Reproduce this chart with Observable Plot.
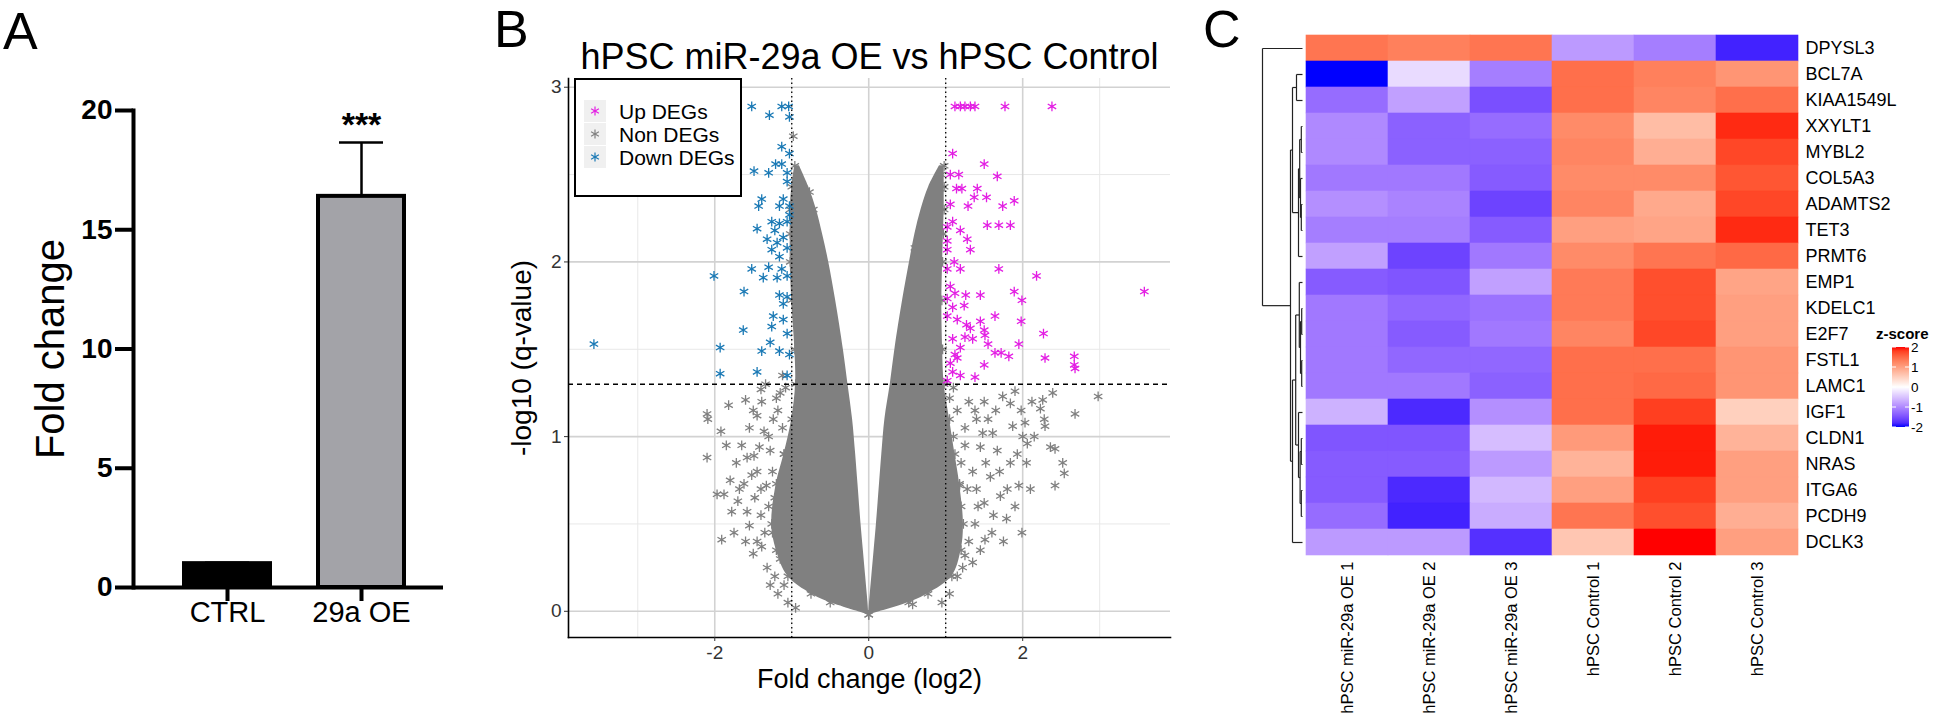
<!DOCTYPE html>
<html><head><meta charset="utf-8">
<script src="https://cdn.jsdelivr.net/npm/d3@7"></script>
<script src="https://cdn.jsdelivr.net/npm/@observablehq/plot@0.6"></script>
<style>
html,body{margin:0;padding:0;background:#fff;}
#root{position:relative;width:1946px;height:715px;overflow:hidden;font-family:"Liberation Sans",Arial,Helvetica,sans-serif;background:#fff;}
#root > svg, #root > div{position:absolute;}
#root svg{background:transparent;max-width:none;}
</style></head><body><div id="root"></div>
<script>
// ---------------- Panel A data ----------------
const groups = ["CTRL", "29a OE"];
const foldChange = [1.0, 16.4];
const foldChangeUpper = [1.04, 18.66];
const significance = ["", "***"];
const aTicks = [0, 5, 10, 15, 20];
const barColors = ["#000000", "#a3a3a8"];

// ---------------- Panel B data ----------------
const xMajor = [-2, 0, 2];
const xMinor = [-3, -1, 1, 3];
const yMajor = [0, 1, 2, 3];
const yMinor = [0.5, 1.5, 2.5];
const foldCut = [-1, 1];
const qCut = [1.3];
// dense central cloud of non-DEGs (outline)
const massY      = [-0.02, 0.05, 0.10, 0.20, 0.35, 0.50, 0.73, 0.90, 1.10, 1.30, 1.50, 1.78, 2.00, 2.16, 2.30, 2.43, 2.55];
const leftOuter  = [0, -0.50, -0.75, -1.05, -1.20, -1.26, -1.20, -1.10, -1.00, -0.95, -0.96, -1.00, -1.02, -1.02, -1.02, -1.00, -0.96];
const leftInner  = [0, -0.01, -0.02, -0.04, -0.07, -0.10, -0.14, -0.17, -0.21, -0.27, -0.33, -0.43, -0.52, -0.60, -0.68, -0.78, -0.90];
const rightInner = [0, 0.01, 0.02, 0.04, 0.07, 0.10, 0.14, 0.17, 0.21, 0.28, 0.34, 0.44, 0.53, 0.60, 0.68, 0.78, 0.92];
const rightOuter = [0, 0.52, 0.77, 1.08, 1.20, 1.23, 1.18, 1.12, 1.05, 0.98, 0.96, 0.95, 0.96, 0.97, 0.98, 0.98, 0.98];
// scattered non-DEGs
const nonX = [-2.10,-2.09,-1.92,-2.10,-1.82,-1.60,-1.39,-1.24,-1.97,-1.88,-1.70,-1.78,-1.91,-1.58,-1.62,-1.49,-1.42,-1.36,-1.22,-1.39,-1.55,-1.34,-1.45,-1.30,-1.25,-1.15,-1.48,-1.52,-1.33,-1.28,-1.10,-1.20,-1.12,-0.98,-0.77,-0.85,-0.72,-0.70,
  -1.55,-1.45,-1.65,-1.72,-1.58,-1.68,-1.40,-1.35,-1.45,-1.50,-1.32,-1.28,-1.18,-1.05,-0.95,-1.60,-1.75,-1.80,-1.40,-1.25,-1.30,-1.18,-1.15,-1.08,-1.22,-1.12,-1.15,-1.10,-1.12,-1.40,-1.50,-1.85,
  1.90,2.39,2.98,1.74,1.84,2.26,2.23,2.68,2.28,2.29,2.03,2.00,2.06,1.87,2.36,2.42,2.52,2.54,2.42,2.10,1.95,1.99,1.79,1.51,1.35,1.22,0.57,1.67,1.58,1.71,1.61,1.45,1.84,1.93,1.30,1.40,1.25,1.35,1.20,1.42,1.15,0.76,0.78,0.92,0.94,0.60,0.66,0.60,1.10,1.50,
  1.25,1.38,1.55,1.65,1.48,1.70,1.80,1.62,1.50,1.38,1.30,1.45,1.25,1.15,1.05,0.95,1.40,1.52,1.28,1.20,1.15,1.10,1.18,1.12,1.60,1.75,1.90,2.05,2.15,1.98,2.12,1.05];
const nonY = [1.13,1.10,1.03,0.88,1.18,1.21,1.20,1.10,0.67,0.67,0.63,0.57,0.41,0.57,0.73,0.89,0.94,1.03,0.20,0.37,0.49,1.30,0.80,0.60,0.45,0.30,0.65,0.78,0.72,0.92,0.15,1.22,1.35,2.72,2.40,2.42,2.30,2.20,
  1.05,1.12,0.95,0.85,0.88,0.70,0.55,0.45,0.40,0.33,0.25,0.15,0.10,0.05,0.02,0.40,0.45,0.75,0.70,0.80,1.00,1.15,1.25,1.28,0.65,0.50,0.70,0.90,1.05,1.27,1.15,0.95,
  1.26,1.25,1.23,1.23,1.19,1.21,1.16,1.13,1.10,1.06,1.08,1.00,0.96,1.06,0.94,0.93,0.85,0.79,0.72,0.70,0.72,0.45,0.53,0.41,0.28,0.25,0.04,0.92,0.77,0.66,1.02,0.94,0.85,0.90,1.20,1.10,0.95,0.80,0.60,0.60,0.45,2.27,2.35,2.42,2.50,2.08,2.08,1.92,1.28,1.20,
  1.05,1.15,1.10,1.15,1.02,0.80,0.70,0.55,0.62,0.50,0.40,0.35,0.32,0.20,0.10,0.05,0.70,0.85,0.70,0.85,1.15,1.00,0.72,0.55,0.45,0.40,0.60,0.85,1.00,1.15,1.20,1.22];
// Up DEGs
const upX = [1.12,1.19,1.25,1.32,1.38,1.77,2.38,1.09,1.50,1.67,1.06,1.17,1.14,1.21,1.41,1.37,1.53,1.89,1.06,1.29,1.74,1.09,1.02,1.54,1.69,1.84,1.19,1.28,1.32,1.02,1.02,1.11,1.19,1.02,1.69,2.18,3.58,1.06,1.12,1.02,1.26,1.45,1.89,1.99,1.09,1.24,1.02,1.64,1.15,1.45,1.27,1.32,1.98,1.50,1.51,2.27,1.25,1.09,1.35,1.95,1.19,1.55,1.12,1.64,1.72,1.82,2.29,2.67,1.15,1.06,1.50,2.67,2.68,1.09,1.19,1.38,1.02];
const upY = [2.89,2.89,2.89,2.89,2.89,2.89,2.89,2.62,2.56,2.49,2.50,2.50,2.42,2.42,2.42,2.37,2.37,2.35,2.33,2.32,2.32,2.23,2.20,2.21,2.21,2.21,2.18,2.13,2.07,2.12,2.07,2.00,1.96,1.96,1.96,1.92,1.83,1.86,1.82,1.79,1.81,1.81,1.83,1.78,1.74,1.75,1.69,1.69,1.67,1.66,1.64,1.62,1.66,1.61,1.58,1.59,1.57,1.56,1.56,1.53,1.51,1.53,1.47,1.48,1.48,1.46,1.45,1.46,1.45,1.42,1.41,1.41,1.39,1.37,1.35,1.34,1.32];
// Down DEGs
const downX = [-1.52,-1.13,-1.04,-1.29,-1.03,-1.13,-1.03,-1.21,-1.13,-1.49,-1.30,-1.06,-1.06,-1.39,-1.11,-1.43,-1.16,-1.03,-1.03,-1.26,-1.16,-1.06,-1.45,-1.22,-1.11,-1.32,-1.19,-1.06,-1.26,-1.16,-1.52,-1.30,-1.13,-2.01,-1.37,-1.19,-1.06,-1.62,-1.16,-1.06,-1.11,-1.24,-1.11,-1.26,-1.63,-1.06,-3.57,-1.93,-1.28,-1.39,-1.16,-1.03,-1.93,-1.45,-1.06];
const downY = [2.89,2.89,2.89,2.84,2.83,2.66,2.62,2.56,2.56,2.52,2.51,2.51,2.46,2.36,2.36,2.32,2.32,2.32,2.27,2.23,2.22,2.23,2.19,2.18,2.14,2.13,2.11,2.08,2.07,2.03,1.96,1.97,1.96,1.92,1.91,1.91,1.92,1.83,1.81,1.80,1.76,1.69,1.67,1.63,1.61,1.59,1.53,1.51,1.54,1.49,1.49,1.47,1.36,1.37,1.35];
const degLabels = ["Up DEGs", "Non DEGs", "Down DEGs"];
const degColors = ["#e31ee3", "#808080", "#1a79b5"];

// ---------------- Panel C data ----------------
const samples = ["hPSC miR-29a OE 1", "hPSC miR-29a OE 2", "hPSC miR-29a OE 3", "hPSC Control 1", "hPSC Control 2", "hPSC Control 3"];
const genes = ["DPYSL3","BCL7A","KIAA1549L","XXYLT1","MYBL2","COL5A3","ADAMTS2","TET3","PRMT6","EMP1","KDELC1","E2F7","FSTL1","LAMC1","IGF1","CLDN1","NRAS","ITGA6","PCDH9","DCLK3"];
const zScores = [
  [ 1.40,  1.30,  1.40, -0.85, -1.10, -1.85],
  [-2.00, -0.30, -1.10,  1.45,  1.30,  1.10],
  [-1.25, -0.80, -1.50,  1.45,  1.25,  1.45],
  [-1.00, -1.35, -1.25,  1.20,  0.70,  1.90],
  [-1.00, -1.35, -1.35,  1.25,  0.85,  1.75],
  [-1.15, -1.15, -1.40,  1.20,  1.20,  1.65],
  [-0.95, -1.05, -1.60,  1.25,  0.90,  1.75],
  [-1.10, -1.10, -1.40,  1.00,  0.95,  1.90],
  [-0.80, -1.60, -1.15,  1.20,  1.40,  1.50],
  [-1.40, -1.45, -0.80,  1.35,  1.70,  0.95],
  [-1.15, -1.30, -1.20,  1.35,  1.70,  1.00],
  [-1.15, -1.40, -1.15,  1.25,  1.75,  1.00],
  [-1.15, -1.30, -1.30,  1.45,  1.45,  1.10],
  [-1.15, -1.15, -1.35,  1.45,  1.50,  1.10],
  [-0.65, -1.80, -0.95,  1.45,  1.80,  0.50],
  [-1.45, -1.45, -0.55,  1.05,  1.95,  0.80],
  [-1.40, -1.40, -0.85,  0.80,  1.95,  1.00],
  [-1.40, -1.80, -0.60,  1.00,  1.80,  1.00],
  [-1.25, -1.85, -0.70,  1.40,  1.70,  0.85],
  [-0.85, -0.85, -1.75,  0.60,  2.00,  1.00]
];
// row dendrogram (hclust-like merges): left child, right child, height
const mergeLeft   = ["XXYLT1","ADAMTS2","COL5A3","n1","n4","KDELC1","FSTL1","n6","EMP1","CLDN1","ITGA6","n10","IGF1","n9","BCL7A","n15","n14","n16","DPYSL3"];
const mergeRight  = ["MYBL2","TET3","n2","n3","PRMT6","E2F7","LAMC1","n7","n8","NRAS","PCDH9","n11","n12","n13","KIAA1549L","n5","DCLK3","n17","n18"];
const mergeHeight = [0.03, 0.03, 0.05, 0.07, 0.10, 0.02, 0.02, 0.05, 0.08, 0.03, 0.03, 0.06, 0.10, 0.17, 0.15, 0.25, 0.25, 0.30, 1.00];
const zLegendTicks = [2, 1, 0, -1, -2];

// ---------------- build ----------------
const FONT = '"Liberation Sans", Arial, Helvetica, sans-serif';
const root = document.getElementById("root");
function place(el, left, top) { el.style.left = left + "px"; el.style.top = top + "px"; root.appendChild(el); }

// Panel A
const barData = groups.map((g, i) => ({g, v: foldChange[i], hi: foldChangeUpper[i], s: significance[i]}));
const plotA = Plot.plot({
  width: 460, height: 715,
  marginLeft: 133, marginRight: 17, marginTop: 110, marginBottom: 128,
  style: {fontFamily: FONT, color: "#000", background: "transparent", overflow: "visible"},
  x: {type: "band", domain: groups, paddingInner: 0.36, paddingOuter: 0.33, align: 0.56},
  y: {domain: [0, 20]},
  color: {domain: groups, range: barColors},
  marks: [
    Plot.ruleX(barData, {x: "g", y1: "v", y2: "hi", strokeWidth: 2.5}),
    Plot.tickY(barData, {x: "g", y: "hi", strokeWidth: 2.5, insetLeft: 21, insetRight: 21}),
    Plot.barY(barData, {x: "g", y: "v", fill: "g", stroke: "#000", strokeWidth: 4}),
    Plot.text(barData, {x: "g", y: "hi", text: "s", dy: -17, fontSize: 34, fontWeight: "bold"}),
    Plot.ruleY([0], {strokeWidth: 4}),
    Plot.frame({anchor: "left", strokeWidth: 4}),
    Plot.axisY({ticks: aTicks, tickSize: 18, strokeWidth: 4, fontSize: 28, fontWeight: "bold", tickPadding: 3, label: null}),
    Plot.axisX({tickSize: 14, strokeWidth: 4, fontSize: 29, tickPadding: 0, label: null}),
    Plot.text(["Fold change"], {frameAnchor: "left", dx: -82, rotate: -90, fontSize: 40, textAnchor: "middle", lineAnchor: "middle"})
  ]
});
place(plotA, 0, 0);

// Panel B
const mass = massY.map((y, i) => ({y, lo: leftOuter[i], li: leftInner[i], ri: rightInner[i], ro: rightOuter[i]}));
const nonPts = nonX.map((x, i) => ({x, y: nonY[i]}));
const upPts = upX.map((x, i) => ({x, y: upY[i]}));
const downPts = downX.map((x, i) => ({x, y: downY[i]}));
const edgePts = mass.flatMap(d => [{x: d.lo, y: d.y}, {x: d.ro, y: d.y}]);
const sym = {symbol: "asterisk", r: 4.6, strokeWidth: 1.3};
const plotB = Plot.plot({
  width: 740, height: 715,
  marginLeft: 108, marginRight: 30, marginTop: 78, marginBottom: 78,
  style: {fontFamily: FONT, color: "#333", background: "transparent", overflow: "visible"},
  x: {domain: [-3.9, 3.92]},
  y: {domain: [-0.15, 3.05]},
  marks: [
    Plot.ruleX(xMinor, {stroke: "#e8e8e8", strokeWidth: 1}),
    Plot.ruleY(yMinor, {stroke: "#e8e8e8", strokeWidth: 1}),
    Plot.ruleX(xMajor, {stroke: "#d2d2d2", strokeWidth: 1.6}),
    Plot.ruleY(yMajor, {stroke: "#d2d2d2", strokeWidth: 1.6}),
    Plot.areaX(mass, {y: "y", x1: "lo", x2: "li", fill: degColors[1], curve: "catmull-rom"}),
    Plot.areaX(mass, {y: "y", x1: "ri", x2: "ro", fill: degColors[1], curve: "catmull-rom"}),
    Plot.dot(edgePts, {x: "x", y: "y", stroke: degColors[1], ...sym}),
    Plot.dot(nonPts, {x: "x", y: "y", stroke: degColors[1], ...sym}),
    Plot.dot(downPts, {x: "x", y: "y", stroke: degColors[2], ...sym}),
    Plot.dot(upPts, {x: "x", y: "y", stroke: degColors[0], ...sym}),
    Plot.ruleX(foldCut, {stroke: "#000", strokeWidth: 1.3, strokeDasharray: "1.5,3"}),
    Plot.ruleY(qCut, {stroke: "#000", strokeWidth: 1.4, strokeDasharray: "5,4"}),
    Plot.frame({anchor: "left", stroke: "#000", strokeWidth: 1.6}),
    Plot.frame({anchor: "bottom", stroke: "#000", strokeWidth: 1.6}),
    Plot.axisX({ticks: xMajor, tickFormat: d => String(d), tickSize: 4, fontSize: 19, tickPadding: 4, label: null, stroke: "#333"}),
    Plot.axisY({ticks: yMajor, tickFormat: d => String(d), tickSize: 4, fontSize: 19, tickPadding: 3, label: null, stroke: "#333"}),
    Plot.text(["hPSC miR-29a OE vs hPSC Control"], {frameAnchor: "top", dy: -21, fontSize: 36, fill: "#000", lineAnchor: "middle"}),
    Plot.text(["Fold change (log2)"], {frameAnchor: "bottom", dy: 42, fontSize: 27, fill: "#000", lineAnchor: "middle"}),
    Plot.text(["-log10 (q-value)"], {frameAnchor: "left", dx: -46, rotate: -90, fontSize: 28, fill: "#000", textAnchor: "middle", lineAnchor: "middle"})
  ]
});
place(plotB, 460, 0);

// Panel B legend
const leg = document.createElement("div");
leg.style.cssText = `width:164px;height:115px;border:2px solid #000;background:#fff;font-family:${FONT};`;
const legSvg = d3.create("svg").attr("width", 164).attr("height", 115);
degLabels.forEach((lab, i) => {
  const cy = 31 + i * 23;
  legSvg.append("rect").attr("x", 8).attr("y", cy - 11).attr("width", 22).attr("height", 22).attr("fill", "#f0f0f0");
  const gs = legSvg.append("g").attr("transform", `translate(19,${cy})`).attr("stroke", degColors[i]).attr("stroke-width", 1.2);
  [0, 60, 120].forEach(a => gs.append("line").attr("x1", 0).attr("y1", -4.5).attr("x2", 0).attr("y2", 4.5).attr("transform", `rotate(${a})`));
  legSvg.append("text").attr("x", 43).attr("y", cy).attr("dy", "0.36em").attr("font-size", 21).attr("fill", "#000").text(lab);
});
leg.appendChild(legSvg.node());
place(leg, 574, 78);

// Panel C heatmap
const cells = genes.flatMap((g, i) => samples.map((s, j) => ({g, s, z: zScores[i][j]})));
const colorOpts = {type: "linear", domain: [-2, 0, 2], range: ["blue", "white", "red"], interpolate: d3.interpolateLab, clamp: true};
const plotC = Plot.plot({
  width: 746, height: 715,
  marginLeft: 104, marginRight: 146, marginTop: 35, marginBottom: 160,
  style: {fontFamily: FONT, color: "#000", background: "transparent", overflow: "visible"},
  x: {type: "band", domain: samples, padding: 0},
  y: {type: "band", domain: genes, padding: 0},
  color: colorOpts,
  marks: [
    Plot.cell(cells, {x: "s", y: "g", fill: "z", stroke: "z", strokeWidth: 0.6}),
    Plot.axisY({anchor: "right", tickSize: 0, tickPadding: 5, fontSize: 18, label: null}),
    Plot.axisX({anchor: "bottom", tickSize: 0, tickPadding: 6, tickRotate: -90, fontSize: 16.5, label: null})
  ]
});
place(plotC, 1200, 0);

// Panel C dendrogram
const pos = {}; const hgt = {};
genes.forEach((g, i) => { pos[g] = i; hgt[g] = 0; });
const segs = [];
mergeLeft.forEach((a, k) => {
  const b = mergeRight[k], h = mergeHeight[k], id = "n" + (k + 1);
  pos[id] = (pos[a] + pos[b]) / 2; hgt[id] = h;
  segs.push({x1: h, y1: pos[a], x2: h, y2: pos[b]});
  segs.push({x1: h, y1: pos[a], x2: hgt[a], y2: pos[a]});
  segs.push({x1: h, y1: pos[b], x2: hgt[b], y2: pos[b]});
});
const plotD = Plot.plot({
  width: 54, height: 715,
  marginLeft: 12, marginRight: 2, marginTop: 35, marginBottom: 160,
  style: {background: "transparent", overflow: "visible"},
  x: {domain: [1, 0], axis: null},
  y: {domain: [-0.5, genes.length - 0.5], reverse: true, axis: null},
  marks: [Plot.link(segs, {x1: "x1", y1: "y1", x2: "x2", y2: "y2", stroke: "#222", strokeWidth: 1.2})]
});
place(plotD, 1250, 0);

// z-score colour key
const zs = d3.scaleLinear().domain([2, -2]).range([347, 427]);
const key = d3.create("svg").attr("width", 72).attr("height", 112);
const grad = key.append("defs").append("linearGradient").attr("id", "zg").attr("x1", 0).attr("y1", 0).attr("x2", 0).attr("y2", 1);
const ramp = d3.scaleLinear().domain([-2, 0, 2]).range(["blue", "white", "red"]).interpolate(d3.interpolateLab);
d3.range(0, 1.0001, 0.05).forEach(t => grad.append("stop").attr("offset", t).attr("stop-color", ramp(2 - 4 * t)));
const ox = 1874, oy = 322;
key.append("text").attr("x", 2).attr("y", 334 - oy).attr("dy", "0.36em").attr("font-size", 15).attr("font-weight", "bold").attr("font-family", FONT).text("z-score");
key.append("rect").attr("x", 1892 - ox).attr("y", zs(2) - oy).attr("width", 17).attr("height", zs(-2) - zs(2)).attr("fill", "url(#zg)");
zLegendTicks.forEach(t => {
  key.append("line").attr("x1", 1892 - ox).attr("x2", 1896 - ox).attr("y1", zs(t) - oy).attr("y2", zs(t) - oy).attr("stroke", "#fff");
  key.append("line").attr("x1", 1905 - ox).attr("x2", 1909 - ox).attr("y1", zs(t) - oy).attr("y2", zs(t) - oy).attr("stroke", "#fff");
  key.append("text").attr("x", 1911 - ox).attr("y", zs(t) - oy).attr("dy", "0.36em").attr("font-size", 13.5).attr("font-family", FONT).text(t);
});
place(key.node(), ox, oy);

// panel letters
const letters = d3.create("svg").attr("width", 1946).attr("height", 715).style("pointer-events", "none");
[["A", 3, 49], ["B", 494, 47], ["C", 1203, 47]].forEach(([t, x, y]) =>
  letters.append("text").attr("x", x).attr("y", y).attr("font-size", 52).attr("font-family", FONT).text(t));
place(letters.node(), 0, 0);
</script>
</body></html>
